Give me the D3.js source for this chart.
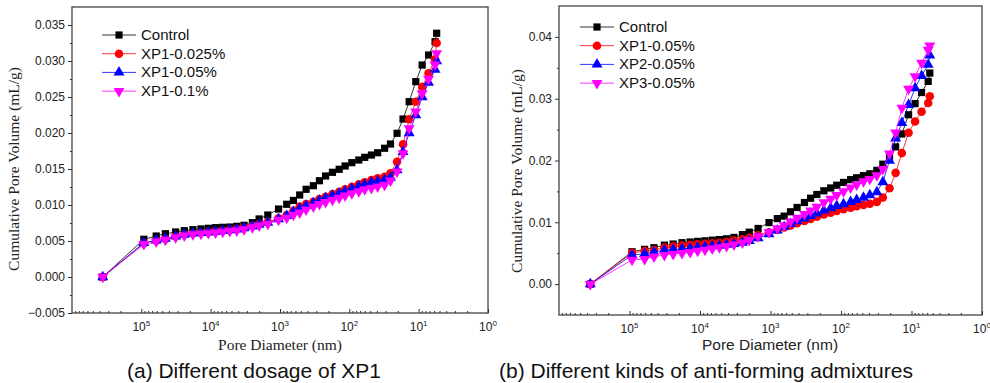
<!DOCTYPE html>
<html>
<head>
<meta charset="utf-8">
<script src="https://cdn.jsdelivr.net/npm/d3@7"></script>
<style>
  html, body { margin: 0; padding: 0; background: #fff; }
  svg { display: block; }
  .tick text { font-family: "Liberation Sans", Arial, sans-serif; }
</style>
</head>
<body>
<svg id="chart" width="990" height="383"></svg>
<script>
// pore diameters (nm) shared by both MIP runs
const poreDiameter = [360000, 92000, 61000, 45000, 32000, 24000, 18000, 13800, 10800, 8500,
  6700, 5300, 4200, 3300, 2500, 2000, 1500, 1050, 800, 640,
  520, 420, 330, 270, 220, 175, 140, 115, 92, 73,
  60, 48, 39, 31, 25.5, 20.5, 16.8, 13.7, 11, 8.9,
  7.2, 5.8, 5.5]

// (a) dosage of XP1, cumulative pore volume (mL/g)
const dosageControl = [0, .00524, .00569, .00601, .00625, .00643, .00657, .00667, .00676, .00685,
  .00690, .00694, .00704, .00718, .00754, .00806, .00861, .00944, .01010, .01063,
  .01139, .01218, .01268, .01337, .01403, .01454, .01496, .01542, .01588, .01625,
  .01662, .01694, .01726, .01788, .01847, .01996, .02194, .02435, .02713, .02944,
  .03083, .03268, .03385]
const dosageXP1_0025 = [0, .00470, .00505, .00530, .00565, .00590, .00605, .00615, .00625, .00635,
  .00645, .00655, .00668, .00685, .00712, .00735, .00765, .00815, .00860, .00921,
  .00977, .01014, .01046, .01083, .01115, .01153, .01185, .01218, .01254, .01288,
  .01315, .01347, .01371, .01393, .01440, .01601, .01843, .02190, .02435, .02640,
  .02829, .03024, .03250]
const dosageXP1_005 = [0, .00475, .00510, .00535, .00565, .00590, .00605, .00612, .00620, .00630,
  .00640, .00650, .00662, .00678, .00705, .00728, .00755, .00805, .00850, .00905,
  .00950, .00990, .01025, .01060, .01095, .01130, .01160, .01190, .01225, .01258,
  .01285, .01310, .01330, .01350, .01380, .01486, .01740, .02000, .02250, .02500,
  .02700, .02880, .03000]
const dosageXP1_01 = [0, .00455, .00490, .00515, .00550, .00575, .00590, .00600, .00607, .00615,
  .00625, .00635, .00645, .00660, .00690, .00713, .00736, .00792, .00820, .00861,
  .00895, .00935, .00977, .01010, .01040, .01070, .01100, .01130, .01162, .01190,
  .01215, .01235, .01255, .01278, .01337, .01463, .01718, .02065, .02296, .02550,
  .02750, .02950, .03107]

// (b) kinds of admixture
const kindsControl = [0, .00524, .00562, .00589, .00630, .00648, .00670, .00681, .00691, .00700,
  .00711, .00720, .00733, .00755, .00800, .00840, .00900, .00995, .01060, .01100,
  .01170, .01240, .01320, .01390, .01450, .01510, .01555, .01600, .01645, .01690,
  .01720, .01755, .01785, .01840, .01940, .02070, .02220, .02430, .02740, .02920,
  .03100, .03280, .03415]
const kindsXP1 = [0, .00505, .00535, .00550, .00590, .00610, .00625, .00635, .00645, .00652,
  .00660, .00670, .00685, .00705, .00725, .00750, .00790, .00840, .00880, .00915,
  .00950, .00985, .01020, .01055, .01090, .01125, .01155, .01185, .01210, .01235,
  .01260, .01280, .01300, .01330, .01400, .01550, .01800, .02120, .02450, .02630,
  .02790, .02930, .03040]
const kindsXP2 = [0, .00470, .00490, .00520, .00550, .00560, .00570, .00580, .00595, .00605,
  .00615, .00625, .00638, .00652, .00670, .00700, .00745, .00810, .00870, .00925,
  .00975, .01020, .01065, .01105, .01145, .01190, .01230, .01265, .01295, .01330,
  .01365, .01400, .01440, .01490, .01650, .02000, .02360, .02610, .02900, .03170,
  .03370, .03550, .03700]
const kindsXP3 = [0, .00390, .00405, .00443, .00470, .00486, .00500, .00515, .00535, .00555,
  .00575, .00595, .00615, .00640, .00670, .00710, .00770, .00840, .00900, .00950,
  .01010, .01070, .01130, .01190, .01250, .01320, .01380, .01440, .01500, .01560,
  .01610, .01660, .01700, .01760, .01860, .02110, .02450, .02850, .03160, .03360,
  .03580, .03790, .03860]

const namesA = ['Control', 'XP1-0.025%', 'XP1-0.05%', 'XP1-0.1%']
const namesB = ['Control', 'XP1-0.05%', 'XP2-0.05%', 'XP3-0.05%']
const colors = ['#000000', '#ff0000', '#0000ff', '#ff00ff']
const markers = ['square', 'circle', 'up', 'down']
const xTickExp = [5, 4, 3, 2, 1, 0]
const yTicksA = [-0.005, 0, 0.005, 0.01, 0.015, 0.02, 0.025, 0.03, 0.035]
const yTicksB = [0, 0.01, 0.02, 0.03, 0.04]

const sans = '"Liberation Sans", Arial, sans-serif'
const serif = '"Liberation Serif", "Times New Roman", serif'
const svg = d3.select('#chart')

const symbolFor = (m) => {
  if (m === 'square') return d3.symbol().type(d3.symbolSquare).size(52)()
  if (m === 'circle') return d3.symbol().type(d3.symbolCircle).size(58)()
  return d3.symbol().type(d3.symbolTriangle).size(52)()
}

const drawPanel = (cfg) => {
  const g = svg.append('g')
  const x = d3.scaleLog().domain([1e6, 1]).range([cfg.left, cfg.right])
  const y = d3.scaleLinear().domain(cfg.yDomain).range([cfg.bottom, cfg.top])

  // frame
  g.append('rect')
    .attr('x', cfg.left).attr('y', cfg.top)
    .attr('width', cfg.right - cfg.left).attr('height', cfg.bottom - cfg.top)
    .attr('fill', 'none').attr('stroke', '#444').attr('stroke-width', 1.3)

  // y axis, major + minor ticks
  const yAxis = g.append('g').attr('transform', `translate(${cfg.left},0)`)
    .call(d3.axisLeft(y).tickValues(cfg.yTicks).tickSize(4).tickPadding(3).tickFormat(d3.format(cfg.yFmt)))
  yAxis.select('.domain').remove()
  yAxis.selectAll('line').attr('stroke', '#333')
  yAxis.selectAll('text').attr('font-size', 12).attr('fill', '#222')
  const yMinor = g.append('g').attr('transform', `translate(${cfg.left},0)`)
    .call(d3.axisLeft(y).tickValues(cfg.yMinor).tickSize(2).tickFormat(''))
  yMinor.select('.domain').remove()
  yMinor.selectAll('line').attr('stroke', '#333')

  // x axis: ticks point inward, labels as 10^n
  const minor = []
  for (let e = 0; e < 6; e++) for (let k = 2; k <= 9; k++) minor.push(k * Math.pow(10, e))
  const xMinor = g.append('g').attr('transform', `translate(0,${cfg.bottom})`)
    .call(d3.axisBottom(x).tickValues(minor).tickSize(-2).tickFormat(''))
  xMinor.select('.domain').remove()
  xMinor.selectAll('line').attr('stroke', '#333')
  const xAxis = g.append('g').attr('transform', `translate(0,${cfg.bottom})`)
    .call(d3.axisBottom(x).tickValues(xTickExp.map((e) => Math.pow(10, e))).tickSize(-4).tickFormat(''))
  xAxis.select('.domain').remove()
  xAxis.selectAll('line').attr('stroke', '#333')
  const lab = g.selectAll('.xlab').data(xTickExp).join('text')
    .attr('class', 'xlab')
    .attr('x', (e) => x(Math.pow(10, e)))
    .attr('y', cfg.bottom + 18)
    .attr('text-anchor', 'middle')
    .attr('font-family', sans).attr('font-size', 12).attr('fill', '#222')
  lab.append('tspan').text('10')
  lab.append('tspan').attr('font-size', 8).attr('dy', -5).text((e) => e)

  // series
  const line = d3.line().x((d) => x(d[0])).y((d) => y(d[1]))
  cfg.series.forEach((vals, i) => {
    const pts = poreDiameter.map((d, j) => [d, vals[j]])
    g.append('path').attr('d', line(pts))
      .attr('fill', 'none').attr('stroke', colors[i]).attr('stroke-width', 0.8)
    g.append('g').selectAll('path').data(pts).join('path')
      .attr('d', symbolFor(markers[i]))
      .attr('transform', (d) => `translate(${x(d[0])},${y(d[1])})` + (markers[i] === 'down' ? ' rotate(180)' : ''))
      .attr('fill', colors[i])
  })

  // legend
  const lg = g.append('g')
  cfg.names.forEach((name, i) => {
    const ly = cfg.legY + i * 18.7
    lg.append('line').attr('x1', cfg.legX).attr('x2', cfg.legX + 34)
      .attr('y1', ly).attr('y2', ly).attr('stroke', colors[i]).attr('stroke-width', 0.8)
    lg.append('path').attr('d', symbolFor(markers[i]))
      .attr('transform', `translate(${cfg.legX + 17},${ly})` + (markers[i] === 'down' ? ' rotate(180)' : ''))
      .attr('fill', colors[i])
    lg.append('text').attr('x', cfg.legX + 39).attr('y', ly + 5)
      .attr('font-family', sans).attr('font-size', 15).attr('fill', '#111').text(name)
  })

  // axis titles + caption
  g.append('text')
    .attr('transform', `translate(${cfg.yTitleX},${cfg.yTitleY}) rotate(-90)`)
    .attr('text-anchor', 'middle').attr('font-family', serif).attr('font-size', 15.5).attr('fill', '#222')
    .text('Cumulative Pore Volume  (mL/g)')
  g.append('text')
    .attr('x', cfg.xTitleX).attr('y', 350)
    .attr('text-anchor', 'middle').attr('font-family', cfg.xTitleFont).attr('font-size', 15.5).attr('fill', '#222')
    .text('Pore Diameter  (nm)')
  g.append('text')
    .attr('x', cfg.capX).attr('y', 378)
    .attr('text-anchor', 'middle').attr('font-family', sans).attr('font-size', 21).attr('fill', '#111')
    .text(cfg.caption)
}

drawPanel({
  left: 72, right: 488, top: 7, bottom: 313,
  yDomain: [-0.005, 0.0375], yTicks: yTicksA, yFmt: '.3f',
  yMinor: [-0.0025, 0.0025, 0.0075, 0.0125, 0.0175, 0.0225, 0.0275, 0.0325],
  series: [dosageControl, dosageXP1_0025, dosageXP1_005, dosageXP1_01],
  names: namesA, legX: 102, legY: 35,
  yTitleX: 19, yTitleY: 169, xTitleX: 280, xTitleFont: serif,
  capX: 254, caption: '(a) Different dosage of XP1',
})

drawPanel({
  left: 559, right: 982, top: 6, bottom: 315,
  yDomain: [-0.005, 0.045], yTicks: yTicksB, yFmt: '.2f',
  yMinor: [0.005, 0.015, 0.025, 0.035],
  series: [kindsControl, kindsXP1, kindsXP2, kindsXP3],
  names: namesB, legX: 580, legY: 27,
  yTitleX: 522, yTitleY: 171, xTitleX: 770, xTitleFont: sans,
  capX: 706, caption: '(b) Different kinds of anti-forming admixtures',
})
</script>
</body>
</html>
